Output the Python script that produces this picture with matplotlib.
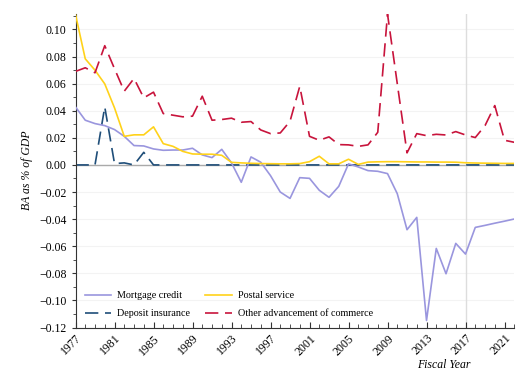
import numpy as np
import matplotlib
matplotlib.use("Agg")
import matplotlib.pyplot as plt
from matplotlib.ticker import MultipleLocator

years = list(range(1977, 2023))

mortgage = [0.0428, 0.0330, 0.0305, 0.0290, 0.0261, 0.0211, 0.0143, 0.0140, 0.0118, 0.0108,
            0.0110, 0.0110, 0.0123, 0.0074, 0.0054, 0.0115, 0.0015, -0.0128, 0.0059, 0.0020,
            -0.0079, -0.0200, -0.0247, -0.0094, -0.0099, -0.0187, -0.0239, -0.0158, 0.0008, -0.0015,
            -0.0042, -0.0047, -0.0064, -0.0212, -0.0478, -0.0387, -0.1148, -0.0616, -0.0803, -0.0579,
            -0.0658, -0.0461, -0.0446, -0.0430, -0.0415, -0.0399]

postal = [0.1110, 0.0783, 0.0699, 0.0598, 0.0421, 0.0211, 0.0222, 0.0222, 0.0281, 0.0157,
          0.0137, 0.0100, 0.0081, 0.0079, 0.0079, 0.0071, 0.0019, 0.0015, 0.0012, 0.0010,
          0.0009, 0.0008, 0.0008, 0.0010, 0.0024, 0.0064, 0.0008, 0.0008, 0.0042, 0.0004,
          0.0021, 0.0023, 0.0024, 0.0024, 0.0023, 0.0022, 0.0022, 0.0021, 0.0021, 0.0020,
          0.0016, 0.0014, 0.0013, 0.0012, 0.0011, 0.0011]

deposit = [0.0, 0.0, 0.0, 0.0428, 0.0010, 0.0015, 0.0, 0.0093, 0.0, 0.0,
           0.0, 0.0, 0.0, 0.0, 0.0, 0.0, 0.0, 0.0, 0.0, 0.0,
           0.0, 0.0, 0.0, 0.0, 0.0, 0.0, 0.0, 0.0, 0.0, 0.0,
           0.0, 0.0, 0.0, 0.0, 0.0, 0.0, 0.0, 0.0, 0.0, 0.0,
           0.0, 0.0, 0.0, 0.0, 0.0, 0.0]

other = [0.0690, 0.0717, 0.0680, 0.0880, 0.0710, 0.0544, 0.0638, 0.0495, 0.0537, 0.0379,
         0.0367, 0.0355, 0.0360, 0.0507, 0.0330, 0.0335, 0.0345, 0.0315, 0.0320, 0.0258,
         0.0231, 0.0236, 0.0322, 0.0580, 0.0211, 0.0182, 0.0207, 0.0150, 0.0148, 0.0137,
         0.0148, 0.0241, 0.1113, 0.0600, 0.0089, 0.0231, 0.0216, 0.0226, 0.0221, 0.0246,
         0.0221, 0.0202, 0.0290, 0.0438, 0.0182, 0.0167]

plt.rcParams["font.family"] = ["Liberation Serif", "DejaVu Serif"]

fig = plt.figure(figsize=(5.28, 3.84), dpi=100)
ax = fig.add_axes([0.143, 0.147, 0.831, 0.817])

# faint grid + reference lines
for yv in np.arange(-0.12, 0.11, 0.02):
    ax.axhline(yv, color="#f3f3f3", lw=0.8, zorder=0)
ax.axhline(0, color="#aaaaaa", lw=1.0, zorder=1)
ax.axvline(2017, color="#dddddd", lw=1.0, zorder=1)

l1, = ax.plot(years, mortgage, color="#9a96de", lw=1.2, label="Mortgage credit", zorder=3)
l2, = ax.plot(years, postal, color="#ffd21a", lw=1.2, label="Postal service", zorder=3)
l3, = ax.plot(years, deposit, color="#1f4e79", lw=1.2, dashes=(8, 4), label="Deposit insurance", zorder=2)
l4, = ax.plot(years, other, color="#c8143c", lw=1.2, dashes=(8, 4), label="Other advancement of commerce", zorder=3)

ax.set_xlim(1977, 2022)
ax.set_ylim(-0.12, 0.1115)
ax.set_xticks(list(range(1977, 2023, 4)))
ax.xaxis.set_minor_locator(MultipleLocator(1))
ax.yaxis.set_major_locator(MultipleLocator(0.02))
ax.yaxis.set_minor_locator(MultipleLocator(0.01))
ax.yaxis.set_major_formatter(plt.FuncFormatter(lambda v, p: f"{v:.2f}".replace("-", "\u2212")))

for s in ["top", "right"]:
    ax.spines[s].set_visible(False)
ax.spines["left"].set_color("#333333")
ax.spines["bottom"].set_color("#333333")

ax.tick_params(axis="y", which="major", direction="out", length=3, labelsize=8.5, color="#333333")
ax.tick_params(axis="y", which="minor", direction="out", length=2, color="#333333")
ax.tick_params(axis="x", which="major", direction="in", length=4, labelsize=8.5, color="#333333")
ax.tick_params(axis="x", which="minor", direction="in", length=3, color="#333333")
plt.setp(ax.get_xticklabels(), rotation=45, ha="right", rotation_mode="anchor")

ax.set_ylabel("BA as % of GDP", fontstyle="italic", fontsize=8.5)
ax.set_xlabel("Fiscal Year", fontstyle="italic", fontsize=8.5)
ax.xaxis.set_label_coords(0.84, -0.10)

ax.legend([l1, l3, l2, l4], [h.get_label() for h in [l1, l3, l2, l4]],
          loc="lower left", bbox_to_anchor=(0.0, 0.0), ncol=2, frameon=False, fontsize=7.3,
          handlelength=2.6, handletextpad=0.6, columnspacing=1.5, labelspacing=0.9)

fig.savefig("out.png", dpi=100)
